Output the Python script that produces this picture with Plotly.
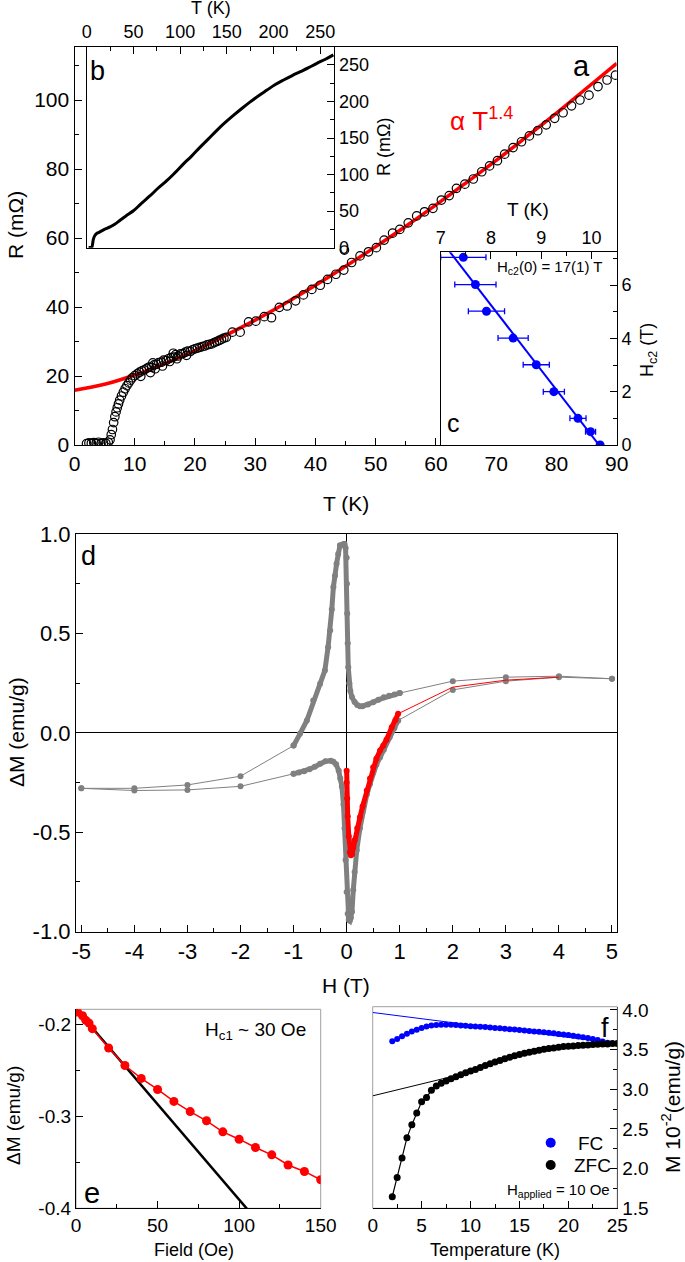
import plotly.graph_objects as go

W, H = 685, 1262
FONT = "Liberation Sans, Arial, sans-serif"
GRAY = "#808080"

# ---------------- Panel a : R(T) ----------------
a_T = [2.0, 2.4, 2.8, 3.2, 3.6, 4.0, 4.4, 4.8, 5.2, 5.6,
       5.9, 6.1, 6.3, 6.5, 6.7, 6.9, 7.1, 7.3, 7.5, 7.8, 8.1, 8.4, 8.7, 9.0, 9.3, 9.6,
       10.0, 10.4, 10.8, 11.2, 11.6, 12.0, 12.4, 12.8, 13.2, 13.6, 14.0, 14.4, 14.8, 15.2,
       15.6, 16.0, 16.4, 16.8, 17.2, 17.6, 18.0, 18.4, 18.8, 19.2, 19.6, 20.0, 20.4, 20.8,
       21.2, 21.6, 22.0, 22.4, 22.8, 23.2, 23.6, 24.0, 24.4, 24.8, 25.2,
       11.0, 12.6, 13.0, 13.4, 14.6, 15.8, 16.4, 17.0, 18.6,
       26.2, 27.5, 28.9, 30.1, 31.5, 32.7, 34.0, 35.3, 36.7, 38.0, 39.4, 40.8, 42.0, 43.4,
       44.7, 44.8, 46.0, 47.4, 48.8, 50.1, 51.4, 52.8, 54.0, 55.4, 56.8, 58.1, 59.5, 60.9,
       62.2, 63.4, 64.8, 66.2, 67.6, 68.9, 70.2, 71.4, 72.8, 74.2, 75.5, 76.9, 78.3, 79.7,
       81.1, 82.5, 83.9, 85.4, 86.9, 88.4, 89.8]
a_R = [0.4, 0.6, 0.5, 0.7, 0.5, 0.8, 0.4, 0.6, 0.5, 0.8,
       1.5, 3.0, 4.5, 6.5, 8.2, 9.6, 10.8, 11.9, 13.0, 14.2, 15.3, 16.3, 17.2, 18.0, 18.8, 19.5,
       20.1, 20.6, 21.1, 21.5, 21.8, 22.2, 22.6, 22.5, 23.2, 23.4, 23.9, 24.0, 24.6, 24.5,
       25.0, 25.3, 25.5, 26.2, 25.8, 26.4, 26.5, 26.9, 27.2, 27.1, 27.6, 27.9, 28.1, 28.3,
       28.5, 28.7, 29.0, 29.2, 29.3, 29.7, 30.0, 30.3, 30.6, 31.0, 31.2,
       19.9, 21.0, 23.8, 22.1, 22.9, 24.2, 26.6, 25.0, 26.0,
       32.7, 32.7, 35.7, 35.9, 37.2, 36.9, 39.9, 40.3, 41.8, 43.5, 45.1, 46.3, 48.0, 49.5,
       50.7, 56.5, 52.9, 54.8, 56.0, 57.2, 59.4, 61.4, 62.5, 64.4, 66.4, 67.6, 68.6, 71.0,
       72.3, 74.4, 75.6, 77.1, 79.2, 80.9, 82.4, 84.3, 86.2, 87.9, 89.6, 91.1, 92.8, 94.7,
       96.3, 98.3, 100.0, 101.4, 103.9, 105.8, 107.2]
a_fit_T = [0, 5, 10, 15, 20, 25, 30, 35, 40, 45, 50, 55, 60, 65, 70, 75, 80, 85, 90]
a_fit_R = [15.9, 17.6, 20.3, 23.6, 27.4, 31.7, 36.2, 41.1, 46.3, 51.8, 57.5, 63.4,
           69.6, 76.0, 82.5, 89.3, 96.2, 103.4, 110.6]

# ---------------- Inset b : R(T) up to 265 K ----------------
b_T = [2, 4, 5.4, 6.3, 7.1, 8.9, 10.7, 12.5, 18, 25, 30, 35.7, 42, 50, 58, 67.9, 76,
       85.7, 94, 103.6, 112, 121.4, 130, 139.3, 148, 157, 166, 175, 184, 192.9, 201,
       210.7, 220, 228.6, 237, 246.4, 255, 264]
b_R = [0.3, 0.3, 0.5, 5, 11.5, 17, 19.5, 20.6, 24.5, 28.4, 32, 37.6, 43.5, 50.5, 60,
       71.1, 81, 91.7, 102, 114.7, 125, 137.6, 148.5, 160.6, 171, 181, 190.5, 199.5,
       208, 215.6, 222.5, 229.4, 235.5, 240.8, 246, 252.3, 257.5, 263.8]

# ---------------- Inset c : Hc2(T) ----------------
c_T = [7.45, 7.69, 7.91, 8.44, 8.90, 9.25, 9.73, 9.98, 10.17]
c_Terr = [0.45, 0.41, 0.36, 0.30, 0.26, 0.21, 0.16, 0.10, 0.0]
c_H = [7.04, 6.02, 5.02, 4.01, 3.01, 2.0, 1.0, 0.5, 0.0]
c_fit_T = [7.0, 10.3]
c_fit_H = [7.69, -0.37]

# ---------------- Panel d : hysteresis loop ----------------
# descending-field branch
d_dec_pos_H = [5, 4, 3, 2, 1.0]
d_dec_pos_M = [0.272, 0.285, 0.28, 0.26, 0.200]
d_dec_dense_H = [1.0, 0.9, 0.8, 0.7, 0.6, 0.5, 0.4, 0.3, 0.25, 0.2, 0.15, 0.1, 0.07, 0.05,
                 0.03, 0.02, 0.01, 0.005, 0.0, -0.02, -0.04, -0.06, -0.09, -0.126, -0.16,
                 -0.19, -0.22, -0.25, -0.28, -0.31, -0.35, -0.41, -0.5, -0.63, -0.75, -0.88, -1.0]
d_dec_dense_M = [0.200, 0.193, 0.186, 0.179, 0.167, 0.154, 0.142, 0.134, 0.134, 0.14, 0.155,
                 0.18, 0.21, 0.25, 0.33, 0.45, 0.6, 0.75, 0.88, 0.93, 0.95, 0.95, 0.945, 0.943,
                 0.9, 0.851, 0.79, 0.733, 0.62, 0.515, 0.431, 0.314, 0.247, 0.163, 0.062,
                 -0.005, -0.064]
d_dec_neg_H = [-1.0, -2, -3, -4, -5]
d_dec_neg_M = [-0.064, -0.218, -0.262, -0.279, -0.279]
# ascending-field branch
d_inc_neg_H = [-5, -4, -3, -2, -1.0]
d_inc_neg_M = [-0.279, -0.29, -0.287, -0.269, -0.206]
d_inc_dense_H = [-1.0, -0.9, -0.8, -0.7, -0.6, -0.5, -0.4, -0.3, -0.25, -0.2, -0.15, -0.12,
                 -0.09, -0.06, -0.04, -0.02, 0.0, 0.02, 0.04, 0.06, 0.08, 0.1, 0.125, 0.15,
                 0.19, 0.25, 0.31, 0.38, 0.44, 0.5, 0.56, 0.63, 0.7, 0.81, 0.9, 0.97]
d_inc_dense_M = [-0.206, -0.2, -0.193, -0.183, -0.17, -0.156, -0.143, -0.14, -0.145, -0.158,
                 -0.19, -0.23, -0.27, -0.36, -0.48, -0.64, -0.8, -0.91, -0.94, -0.945, -0.93,
                 -0.9, -0.79, -0.7, -0.59, -0.48, -0.39, -0.31, -0.257, -0.2, -0.16, -0.123,
                 -0.085, -0.022, 0.025, 0.062]
d_inc_pos_H = [0.97, 2, 3, 4, 5]
d_inc_pos_M = [0.062, 0.216, 0.26, 0.28, 0.272]
# virgin curve (red)
d_vir_dense_H = [0.0, 0.0, 0.01, 0.02, 0.04, 0.06, 0.08, 0.1, 0.125, 0.15, 0.2, 0.25, 0.3,
                 0.38, 0.44, 0.5, 0.56, 0.63, 0.69, 0.75, 0.85, 0.92, 0.97]
d_vir_dense_M = [-0.19, -0.25, -0.33, -0.42, -0.52, -0.60, -0.615, -0.61, -0.576, -0.54,
                 -0.48, -0.425, -0.37, -0.29, -0.23, -0.173, -0.13, -0.089, -0.065, -0.035,
                 0.028, 0.065, 0.096]
d_vir_sparse_H = [0.97, 2, 3, 4]
d_vir_sparse_M = [0.096, 0.23, 0.265, 0.28]

# ---------------- Panel e : low-field M(H) ----------------
e_F = [1, 4, 6, 8, 10, 20, 30, 40, 50, 60, 70, 80, 90, 100, 110, 120, 130, 140, 150]
e_M = [-0.187, -0.191, -0.196, -0.199, -0.205, -0.226, -0.245, -0.259, -0.271, -0.284,
       -0.295, -0.305, -0.317, -0.325, -0.334, -0.342, -0.353, -0.360, -0.369]
e_fit_F = [0, 106]
e_fit_M = [-0.1835, -0.403]

# ---------------- Panel f : FC / ZFC ----------------
f_FC_T = [2.0, 2.5, 3.0, 3.5, 4.0, 4.5, 5.0, 5.5, 6.0, 6.5, 7.0, 7.5, 8.0, 8.5, 9.0, 9.5,
          10.0, 10.5, 11.0, 11.5, 12.0, 12.5, 13.0, 13.5, 14.0, 14.5, 15.0, 15.5, 16.0,
          16.5, 17.0, 17.5, 18.0, 18.5, 19.0, 19.5, 20.0, 20.5, 21.0, 21.5, 22.0, 22.5,
          23.0, 23.5, 24.0]
f_FC_M = [3.604, 3.633, 3.667, 3.700, 3.729, 3.750, 3.771, 3.792, 3.804, 3.808, 3.812,
          3.813, 3.812, 3.808, 3.803, 3.799, 3.795, 3.791, 3.787, 3.783, 3.778, 3.772,
          3.767, 3.762, 3.757, 3.752, 3.746, 3.741, 3.735, 3.729, 3.723, 3.717, 3.711,
          3.704, 3.697, 3.690, 3.682, 3.674, 3.665, 3.656, 3.646, 3.633, 3.620, 3.603, 3.585]
f_ZFC_T = [2.0, 2.5, 3.0, 3.5, 4.0, 4.5, 5.0, 5.5, 6.0, 6.5, 7.0, 7.5, 8.0, 8.5, 9.0, 9.5,
           10.0, 10.5, 11.0, 11.5, 12.0, 12.5, 13.0, 13.5, 14.0, 14.5, 15.0, 15.5, 16.0,
           16.5, 17.0, 17.5, 18.0, 18.5, 19.0, 19.5, 20.0, 20.5, 21.0, 21.5, 22.0, 22.5,
           23.0, 23.5, 24.0, 24.5, 25.0]
f_ZFC_M = [1.646, 1.887, 2.133, 2.388, 2.554, 2.700, 2.842, 2.896, 2.988, 3.042, 3.075,
           3.104, 3.133, 3.158, 3.183, 3.208, 3.229, 3.250, 3.275, 3.300, 3.320, 3.342,
           3.363, 3.383, 3.404, 3.421, 3.438, 3.454, 3.467, 3.479, 3.492, 3.504, 3.513,
           3.521, 3.529, 3.538, 3.542, 3.546, 3.550, 3.554, 3.558, 3.563, 3.567, 3.571,
           3.571, 3.575, 3.577]
f_FC_line_T = [0, 25]
f_FC_line_M = [3.967, 3.575]
f_ZFC_line_T = [0, 10.5]
f_ZFC_line_M = [2.917, 3.232]


def px(x):
    return x / W


def py(y):
    return 1 - y / H


fig = go.Figure()

# panel a
fig.add_trace(go.Scatter(x=a_fit_T, y=a_fit_R, mode="lines", line=dict(color="red", width=3.5, shape="spline"),
                         xaxis="x", yaxis="y", showlegend=False))
fig.add_trace(go.Scatter(x=a_T, y=a_R, mode="markers",
                         marker=dict(symbol="circle-open", size=8.5, color="black", line=dict(width=1.2)),
                         xaxis="x", yaxis="y", showlegend=False))
# inset b
fig.add_trace(go.Scatter(x=b_T, y=b_R, mode="lines", line=dict(color="black", width=3, shape="spline"),
                         xaxis="x2", yaxis="y2", showlegend=False))
# inset c
fig.add_trace(go.Scatter(x=c_fit_T, y=c_fit_H, mode="lines", line=dict(color="#0000FF", width=2),
                         xaxis="x3", yaxis="y3", showlegend=False))
fig.add_trace(go.Scatter(x=c_T, y=c_H, mode="markers",
                         marker=dict(color="#0000FF", size=9),
                         error_x=dict(type="data", array=c_Terr, color="#0000FF", thickness=1.3, width=3),
                         xaxis="x3", yaxis="y3", showlegend=False))

# panel d
for hx, my in [(d_dec_pos_H, d_dec_pos_M), (d_dec_neg_H, d_dec_neg_M),
               (d_inc_neg_H, d_inc_neg_M), (d_inc_pos_H, d_inc_pos_M)]:
    fig.add_trace(go.Scatter(x=hx, y=my, mode="lines+markers", line=dict(color=GRAY, width=1),
                             marker=dict(color=GRAY, size=6), xaxis="x4", yaxis="y4", showlegend=False))
for hx, my in [(d_dec_dense_H, d_dec_dense_M), (d_inc_dense_H, d_inc_dense_M)]:
    fig.add_trace(go.Scatter(x=hx, y=my, mode="lines+markers", line=dict(color=GRAY, width=5),
                             marker=dict(color=GRAY, size=6), xaxis="x4", yaxis="y4", showlegend=False))
fig.add_trace(go.Scatter(x=d_vir_sparse_H, y=d_vir_sparse_M, mode="lines", line=dict(color="red", width=1),
                         xaxis="x4", yaxis="y4", showlegend=False))
fig.add_trace(go.Scatter(x=d_vir_dense_H, y=d_vir_dense_M, mode="lines+markers", line=dict(color="red", width=5),
                         marker=dict(color="red", size=6), xaxis="x4", yaxis="y4", showlegend=False))

# panel e
fig.add_trace(go.Scatter(x=e_fit_F, y=e_fit_M, mode="lines", line=dict(color="black", width=2.5),
                         xaxis="x5", yaxis="y5", showlegend=False))
fig.add_trace(go.Scatter(x=e_F, y=e_M, mode="lines+markers", line=dict(color="red", width=1.5),
                         marker=dict(color="red", size=9), xaxis="x5", yaxis="y5", showlegend=False))

# panel f
fig.add_trace(go.Scatter(x=f_FC_line_T, y=f_FC_line_M, mode="lines", line=dict(color="#0000FF", width=1),
                         xaxis="x6", yaxis="y6", showlegend=False))
fig.add_trace(go.Scatter(x=f_ZFC_line_T, y=f_ZFC_line_M, mode="lines", line=dict(color="black", width=1),
                         xaxis="x6", yaxis="y6", showlegend=False))
fig.add_trace(go.Scatter(x=f_FC_T, y=f_FC_M, mode="markers", marker=dict(color="#0000FF", size=6),
                         xaxis="x6", yaxis="y6", showlegend=False))
fig.add_trace(go.Scatter(x=f_ZFC_T, y=f_ZFC_M, mode="lines+markers", line=dict(color="black", width=1.2),
                         marker=dict(color="black", size=7), xaxis="x6", yaxis="y6", showlegend=False))


def axis(size, minor_dtick=None, **kw):
    d = dict(showgrid=False, zeroline=False, showline=True, linecolor="black", linewidth=1.2,
             ticks="inside", ticklen=7, tickwidth=1.2, tickcolor="black", automargin=False,
             tickfont=dict(family=FONT, size=size, color="black"))
    if minor_dtick is not None:
        d["minor"] = dict(ticks="inside", ticklen=4, tickwidth=1.2, tickcolor="black",
                          dtick=minor_dtick, showgrid=False)
    d.update(kw)
    return d


fig.update_layout(
    width=W, height=H, margin=dict(l=0, r=0, t=0, b=0, autoexpand=False),
    paper_bgcolor="white", plot_bgcolor="white",
    font=dict(family=FONT, color="black"),
    xaxis=axis(21, 5, domain=[px(74.5), px(616.7)], range=[0, 90], dtick=10, anchor="y", mirror=True),
    yaxis=axis(21, 10, domain=[py(445), py(46.7)], range=[0, 115.45], dtick=20, anchor="x", mirror=True),
    xaxis2=axis(18, 25, domain=[px(86.7), px(334.3)], range=[0, 265], dtick=50, side="top",
                anchor="y2", mirror=True),
    yaxis2=axis(18, 25, domain=[py(247.7), py(46.7)], range=[0, 275], dtick=50, side="right",
                anchor="x2", mirror=True),
    xaxis3=axis(18, 0.5, domain=[px(440.7), px(616.7)], range=[7, 10.5], dtick=1, side="top",
                anchor="y3", mirror=True),
    yaxis3=axis(18, 1, domain=[py(445), py(252.3)], range=[0, 7.23], dtick=2, side="right",
                anchor="x3", mirror=True),
    xaxis4=axis(22, 0.5, domain=[px(76), px(617.3)], range=[-5.1, 5.1], anchor="y4", mirror=True,
                tickvals=[-5, -4, -3, -2, -1, 0, 1, 2, 3, 4, 5],
                ticktext=["-5", "-4", "-3", "-2", "-1", "0", "1", "2", "3", "4", "5"],
                zeroline=True, zerolinecolor="black", zerolinewidth=1.2),
    yaxis4=axis(22, 0.25, domain=[py(931.7), py(534)], range=[-1, 1], anchor="x4", mirror=True,
                tickvals=[-1, -0.5, 0, 0.5, 1], ticktext=["-1.0", "-0.5", "0.0", "0.5", "1.0"],
                zeroline=True, zerolinecolor="black", zerolinewidth=1.2),
    xaxis5=axis(19, 25, domain=[px(76), px(320.7)], range=[0, 150], dtick=50, anchor="y5"),
    yaxis5=axis(19, 0.05, domain=[py(1208.3), py(1009.3)], range=[-0.4, -0.184], anchor="x5",
                tickvals=[-0.4, -0.3, -0.2], ticktext=["-0.4", "-0.3", "-0.2"]),
    xaxis6=axis(19, 2.5, domain=[px(372.7), px(617.3)], range=[0, 25], dtick=5, anchor="y6"),
    yaxis6=axis(19, 0.25, domain=[py(1208.3), py(1006.7)], range=[1.5, 4.04], dtick=0.5,
                tickformat=".1f", side="right", anchor="x6", linecolor="#555555"),
)

shapes = [
    dict(type="rect", xref="x5 domain", yref="y5 domain", x0=0, x1=1, y0=0, y1=1,
         line=dict(color="#A0A0A0", width=1), layer="below"),
    dict(type="rect", xref="x6 domain", yref="y6 domain", x0=0, x1=1, y0=0, y1=1,
         line=dict(color="#A0A0A0", width=1), layer="below"),
    dict(type="circle", xref="paper", yref="paper", x0=px(545.7), x1=px(555.7),
         y0=py(1147.7), y1=py(1137.7), fillcolor="#0000FF", line=dict(width=0)),
    dict(type="circle", xref="paper", yref="paper", x0=px(545.7), x1=px(555.7),
         y0=py(1170), y1=py(1160), fillcolor="black", line=dict(width=0)),
]
fig.update_layout(shapes=shapes)


def ann(text, x, y, size, color="black", angle=0):
    return dict(text=text, x=px(x), y=py(y), xref="paper", yref="paper", showarrow=False,
                xanchor="center", yanchor="middle", textangle=angle,
                font=dict(family=FONT, size=size, color=color))


annotations = [
    ann("R (mΩ)", 15, 225, 21, angle=-90),
    ann("T (K)", 346, 503, 21),
    ann("T (K)", 211, 8, 18),
    ann("R (mΩ)", 384, 147, 18, angle=-90),
    ann("b", 98, 71, 27),
    ann("a", 581, 66, 29),
    ann("α T<sup>1.4</sup>", 481, 120, 26, color="red"),
    ann("T (K)", 528, 210, 19),
    ann("H<sub>c2</sub>(0) = 17(1) T", 549, 267, 15),
    ann("c", 453, 423, 25),
    ann("H<sub>c2</sub> (T)", 648, 350, 18, angle=-90),
    ann("d", 88, 556, 27),
    ann("ΔM (emu/g)", 17, 732, 21, angle=-90),
    ann("H (T)", 346, 985, 21),
    ann("H<sub>c1</sub> ~ 30 Oe", 255, 1031, 19),
    ann("e", 92, 1193, 29),
    ann("ΔM (emu/g)", 13, 1116, 19, angle=-90),
    ann("Field (Oe)", 194, 1250, 18),
    ann("f", 605, 1028, 27),
    ann("FC", 590, 1143, 19),
    ann("ZFC", 592, 1165, 19),
    ann("H<sub>applied</sub> = 10 Oe", 558, 1190, 15),
    ann("Temperature (K)", 495, 1250, 18),
    ann("M 10<sup>-2</sup>(emu/g)", 671, 1107, 21, angle=-90),
]
fig.update_layout(annotations=annotations)

fig.write_html("out.html", config={"displayModeBar": False},
               post_script="document.body.style.margin='0';document.body.style.overflow='hidden';")
